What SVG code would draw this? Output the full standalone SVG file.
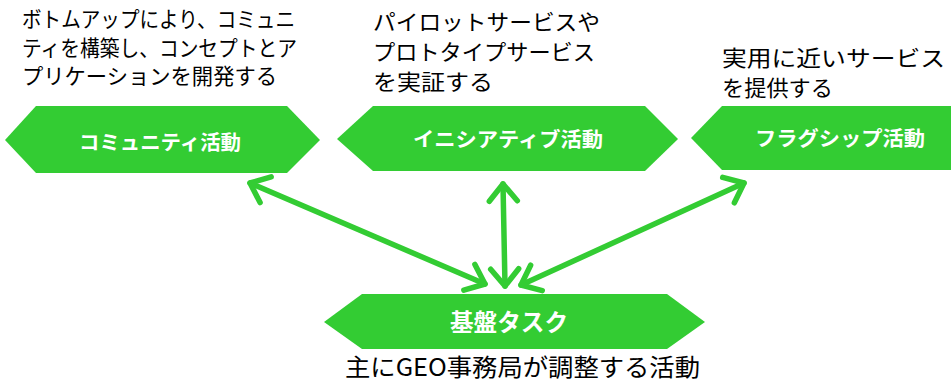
<svg xmlns="http://www.w3.org/2000/svg" width="951" height="383" viewBox="0 0 951 383">
<style>
.hex{fill:#33CC33;}
.lbl{font-family:"Noto Sans CJK JP","Noto Sans",sans-serif;font-weight:bold;fill:#FFFFFF;text-anchor:middle;}
.txt{font-family:"Noto Sans CJK JP","Noto Sans",sans-serif;fill:#000000;font-size:21.5px;}
.conn{stroke:#33CC33;stroke-width:5.5;fill:none;stroke-linecap:round;marker-start:url(#chev);marker-end:url(#chev);}
</style>
<defs>
<marker id="chev" markerUnits="userSpaceOnUse" viewBox="-30 -20 40 40" markerWidth="40" markerHeight="40" refX="0" refY="0" orient="auto-start-reverse" overflow="visible">
<path d="M -17 -14 L 0 0 L -17 14" fill="none" stroke="#33CC33" stroke-width="5.5" stroke-linecap="round" stroke-linejoin="round"/>
</marker>
</defs>
<g id="text-community">
<text class="txt" x="22" y="27" textLength="273" lengthAdjust="spacingAndGlyphs">ボトムアップにより、コミュニ</text>
<text class="txt" x="22" y="56" textLength="275" lengthAdjust="spacingAndGlyphs">ティを構築し、コンセプトとア</text>
<text class="txt" x="22" y="84" textLength="255" lengthAdjust="spacingAndGlyphs">プリケーションを開発する</text>
</g>
<g id="text-initiative">
<text class="txt" x="373" y="30" textLength="227" lengthAdjust="spacingAndGlyphs">パイロットサービスや</text>
<text class="txt" x="373" y="60" textLength="222" lengthAdjust="spacingAndGlyphs">プロトタイプサービス</text>
<text class="txt" x="373" y="90" textLength="120" lengthAdjust="spacingAndGlyphs">を実証する</text>
</g>
<g id="text-flagship">
<text class="txt" x="722" y="66" textLength="223" lengthAdjust="spacingAndGlyphs">実用に近いサービス</text>
<text class="txt" x="722" y="96" textLength="111" lengthAdjust="spacingAndGlyphs">を提供する</text>
</g>
<g id="node-community">
<polygon class="hex" points="5,140 36,106 287,106 320,140 287,173 36,173"/>
<text class="lbl" x="160" y="150" font-size="20" textLength="162" lengthAdjust="spacingAndGlyphs">コミュニティ活動</text>
</g>
<g id="node-initiative">
<polygon class="hex" points="337,139 373,106 645,106 678,139 645,171 373,171"/>
<text class="lbl" x="508" y="147" font-size="20" textLength="190" lengthAdjust="spacingAndGlyphs">イニシアティブ活動</text>
</g>
<g id="node-flagship">
<polygon class="hex" points="691,138 722,106 951,106 951,170 722,170"/>
<text class="lbl" x="840" y="146" font-size="20" textLength="170" lengthAdjust="spacingAndGlyphs">フラグシップ活動</text>
</g>
<g id="node-base">
<polygon class="hex" points="324,322 362,294 667,294 705,322 667,349 362,349"/>
<text class="lbl" x="509" y="331" font-size="24" textLength="118" lengthAdjust="spacingAndGlyphs">基盤タスク</text>
<text class="txt" x="345" y="376" font-size="24" style="font-size:24px" textLength="355" lengthAdjust="spacingAndGlyphs">主にGEO事務局が調整する活動</text>
</g>
<g id="connectors">
<line class="conn" x1="250" y1="183" x2="485" y2="284"/>
<line class="conn" x1="503" y1="184" x2="505" y2="286"/>
<line class="conn" x1="521" y1="285" x2="744" y2="183"/>
</g>
</svg>
